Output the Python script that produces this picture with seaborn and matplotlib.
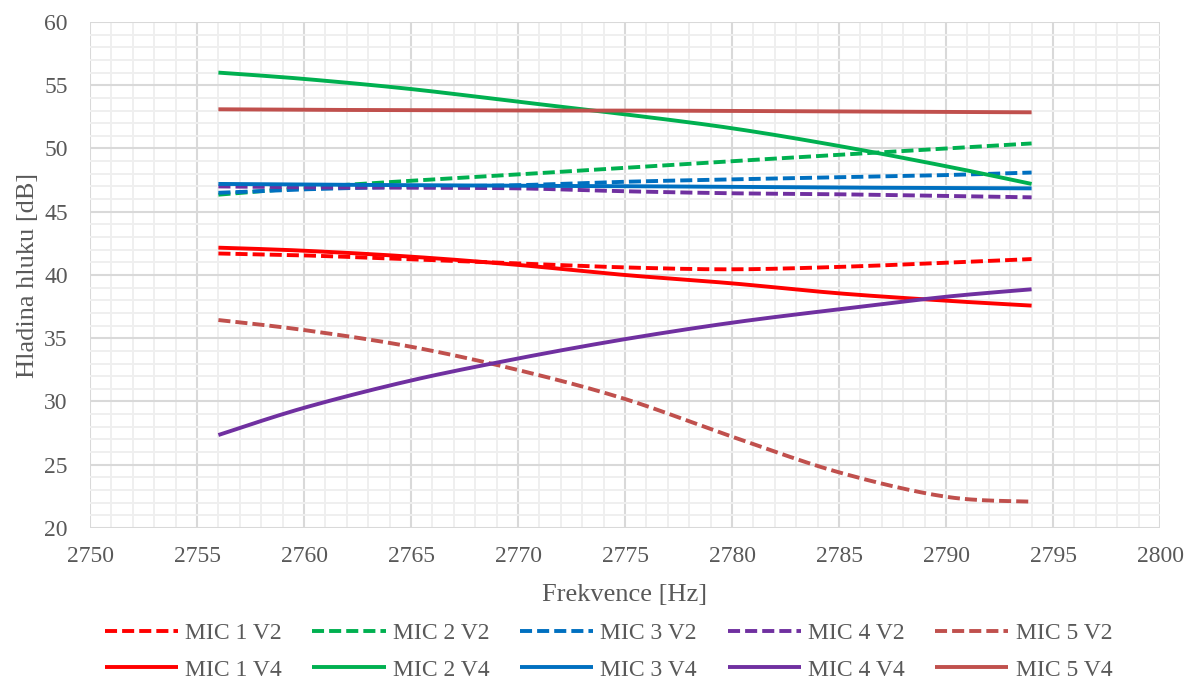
import matplotlib
matplotlib.use("Agg")
import matplotlib.pyplot as plt
from matplotlib.ticker import MultipleLocator
import seaborn as sns
import numpy as np
import pandas as pd

# Frequencies of the measured points [Hz]
freq = [2756, 2760, 2765, 2770, 2775, 2780, 2785, 2790, 2794]

# Noise level [dB], variant V2
mic1_v2 = [41.70, 41.55, 41.24, 40.92, 40.60, 40.45, 40.64, 40.97, 41.26]
mic2_v2 = [46.35, 46.90, 47.45, 47.95, 48.48, 49.00, 49.50, 50.00, 50.40]
mic3_v2 = [46.50, 46.77, 46.98, 47.10, 47.37, 47.56, 47.72, 47.90, 48.10]
mic4_v2 = [47.00, 46.93, 46.90, 46.85, 46.62, 46.46, 46.38, 46.25, 46.14]
mic5_v2 = [36.44, 35.65, 34.33, 32.49, 30.20, 27.22, 24.40, 22.47, 22.08]

# Noise level [dB], variant V4
mic1_v4 = [42.16, 41.92, 41.45, 40.80, 40.00, 39.34, 38.55, 37.97, 37.58]
mic2_v4 = [56.00, 55.50, 54.70, 53.70, 52.70, 51.60, 50.20, 48.60, 47.20]
mic3_v4 = [47.20, 47.15, 47.10, 47.05, 47.02, 46.96, 46.91, 46.88, 46.85]
mic4_v4 = [27.35, 29.50, 31.66, 33.40, 34.93, 36.23, 37.29, 38.28, 38.87]
mic5_v4 = [53.10, 53.06, 53.03, 53.00, 53.00, 52.97, 52.93, 52.90, 52.86]

series = [
    ("MIC 1 V2", mic1_v2, "#FF0000", "--"),
    ("MIC 2 V2", mic2_v2, "#00B050", "--"),
    ("MIC 3 V2", mic3_v2, "#0070C0", "--"),
    ("MIC 4 V2", mic4_v2, "#7030A0", "--"),
    ("MIC 5 V2", mic5_v2, "#C0504D", "--"),
    ("MIC 1 V4", mic1_v4, "#FF0000", "-"),
    ("MIC 2 V4", mic2_v4, "#00B050", "-"),
    ("MIC 3 V4", mic3_v4, "#0070C0", "-"),
    ("MIC 4 V4", mic4_v4, "#7030A0", "-"),
    ("MIC 5 V4", mic5_v4, "#C0504D", "-"),
]


def smoothed(xs, ys, steps=24):
    """Smoothed line through the points (cubic Bezier, spreadsheet style)."""
    p = np.column_stack([xs, ys]).astype(float)
    ext = np.vstack([p[0], p, p[-1]])
    out = [p[0]]
    t = np.linspace(0, 1, steps + 1)[1:, None]
    for i in range(len(p) - 1):
        p0, p3 = ext[i + 1], ext[i + 2]
        c1 = p0 + (ext[i + 2] - ext[i]) / 6.0
        c2 = p3 - (ext[i + 3] - ext[i + 1]) / 6.0
        seg = ((1 - t) ** 3) * p0 + 3 * ((1 - t) ** 2) * t * c1 \
            + 3 * (1 - t) * t ** 2 * c2 + t ** 3 * p3
        out.extend(seg)
    out = np.array(out)
    return out[:, 0], out[:, 1]


sns.set_theme(style="white")
plt.rcParams["font.family"] = ["Liberation Serif", "DejaVu Serif"]
text_color = "#595959"

fig = plt.figure(figsize=(11.86, 6.84), dpi=100)
ax = fig.add_axes([90 / 1186, 1 - 528 / 684, (1160 - 90) / 1186, (528 - 22) / 684])

handles = {}
for name, vals, color, ls in series:
    sx, sy = smoothed(freq, vals)
    df = pd.DataFrame({"freq": sx, "level": sy})
    sns.lineplot(data=df, x="freq", y="level", ax=ax, color=color,
                 linewidth=2.8, label=name, legend=False, sort=False,
                 estimator=None)
    line = ax.lines[-1]
    line.set_linestyle(ls)
    if ls == "--":
        line.set_dashes((3.1, 1.3))
    line.set_solid_capstyle("butt")
    line.set_dash_capstyle("butt")
    handles[name] = line

ax.set_xlim(2750, 2800)
ax.set_ylim(20, 60)
ax.xaxis.set_major_locator(MultipleLocator(5))
ax.xaxis.set_minor_locator(MultipleLocator(1))
ax.yaxis.set_major_locator(MultipleLocator(5))
ax.yaxis.set_minor_locator(MultipleLocator(1))
ax.grid(which="major", color="#D9D9D9", linewidth=1.5, zorder=0)
ax.grid(which="minor", color="#EFEFEF", linewidth=1.4, zorder=0)
ax.set_axisbelow(True)
for s in ax.spines.values():
    s.set_visible(False)
ax.tick_params(which="both", length=0, labelsize=17, colors=text_color)
ax.tick_params(axis="x", pad=13)
ax.tick_params(axis="y", pad=16)

ax.set_xlabel("Frekvence [Hz]", fontsize=19, color=text_color, labelpad=12)
ax.set_ylabel("Hladina hluku [dB]", fontsize=19, color=text_color, labelpad=4)

# legend: V2 series on the first row, V4 series on the second
order = []
for i in range(1, 6):
    order += [f"MIC {i} V2", f"MIC {i} V4"]
leg = fig.legend([handles[n] for n in order], order, ncol=5,
                 loc="lower center", bbox_to_anchor=(0.513, -0.026),
                 frameon=False, fontsize=17, handlelength=3.1,
                 handletextpad=0.3, columnspacing=1.3, labelspacing=0.62)
for t in leg.get_texts():
    t.set_color(text_color)

fig.savefig("out.png", dpi=100, facecolor="white")
